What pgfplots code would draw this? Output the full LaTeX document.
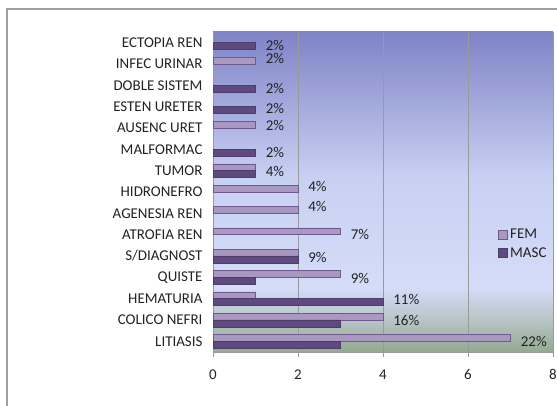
\documentclass[border=0pt]{standalone}
\usepackage{pgfplots}
\pgfplotsset{compat=1.18}
\usepackage{fontspec}
\setmainfont{Carlito}
\definecolor{femfill}{HTML}{A999C2}
\definecolor{femdraw}{HTML}{6E5A8E}
\definecolor{mascfill}{HTML}{5E4A7E}
\definecolor{mascdraw}{HTML}{4E3C6C}
\definecolor{gbot}{HTML}{93A98F}
\definecolor{gmid1}{HTML}{B8C4C6}
\definecolor{glight}{HTML}{D4DCF8}
\definecolor{glight2}{HTML}{C9D1F3}
\definecolor{gtop}{HTML}{7E84C6}
\definecolor{txt}{HTML}{222222}
\definecolor{gridc}{HTML}{9A9A9A}
\pgfdeclareverticalshading{plotbg}{100bp}{color(0bp)=(gbot); color(25bp)=(gbot); color(30bp)=(gmid1); color(35bp)=(glight); color(52bp)=(glight2); color(75bp)=(gtop); color(100bp)=(gtop)}
\begin{document}
\begin{tikzpicture}
\useasboundingbox (0,0) rectangle (557bp,406bp);
\draw[color=gray!75, line width=1.3bp] (7bp,0) -- (7bp,397bp) -- (557bp,397bp);
\begin{axis}[
  at={(213bp,54bp)}, anchor=south west,
  scale only axis, width=340bp, height=320bp,
  xbar, bar width=0.32,
  xmin=0, xmax=8, ymin=0.5, ymax=15.5,
  xtick={0,2,4,6,8},
  ytick={1,...,15},
  yticklabels={LITIASIS,COLICO NEFRI,HEMATURIA,QUISTE,S/DIAGNOST,ATROFIA REN,AGENESIA REN,HIDRONEFRO,TUMOR,MALFORMAC,AUSENC URET,ESTEN URETER,DOBLE SISTEM,INFEC URINAR,ECTOPIA REN},
  minor ytick={0.5,1.5,...,15.5},
  tick align=outside,
  major tick length=5bp,
  minor tick length=5bp,
  ytick style={draw=none},
  minor tick style={draw=gridc, line width=0.7bp},
  xtick style={draw=gridc, line width=0.7bp},
  xmajorgrids, grid style={draw=gridc, line width=0.7bp},
  axis x line*=bottom, axis y line*=left,
  axis line style={draw=gridc, line width=0.8bp, -},
  axis background/.style={shading=plotbg},
  tick label style={font=\fontsize{15}{17}\selectfont, text=txt},
  yticklabel style={xshift=-2bp},
  xticklabel style={yshift=-9bp},
  /pgf/number format/assume math mode=true,
  legend style={at={(rel axis cs:0.838,0.39)}, anchor=north west, draw=none, fill=none,
    font=\fontsize{15}{17}\selectfont, text=txt, row sep=3bp, inner sep=0pt,
    nodes={inner xsep=2.5bp}},
  legend cell align=left,
  legend image code/.code={\draw[#1, bar shift=0pt, xbar] (0bp,-4.5bp) rectangle (9bp,4.5bp);},
]
\addplot[fill=femfill, draw=femdraw, line width=0.6bp, bar shift=0.16] coordinates {
  (7,1) (4,2) (1,3) (3,4) (2,5) (3,6) (2,7) (2,8) (1,9) (1,11) (1,14)
};
\addlegendentry{FEM}
\addplot[fill=mascfill, draw=mascdraw, line width=0.6bp, bar shift=-0.16] coordinates {
  (3,1) (3,2) (4,3) (1,4) (2,5) (1,9) (1,10) (1,12) (1,13) (1,15)
};
\addlegendentry{MASC}
\begin{scope}[every node/.style={anchor=west, inner sep=0pt, font=\fontsize{15}{17}\selectfont, text=txt}]
\node at (axis cs:1.24,14.85) {2\%};
\node at (axis cs:1.24,14.27) {2\%};
\node at (axis cs:1.24,12.85) {2\%};
\node at (axis cs:1.24,11.90) {2\%};
\node at (axis cs:1.24,11.10) {2\%};
\node at (axis cs:1.24,9.85) {2\%};
\node at (axis cs:1.24,8.94) {4\%};
\node at (axis cs:2.24,8.28) {4\%};
\node at (axis cs:2.24,7.30) {4\%};
\node at (axis cs:3.24,6.03) {7\%};
\node at (axis cs:2.24,4.95) {9\%};
\node at (axis cs:3.24,3.97) {9\%};
\node at (axis cs:4.24,2.94) {11\%};
\node at (axis cs:4.24,2.00) {16\%};
\node at (axis cs:7.24,1.01) {22\%};
\end{scope}
\end{axis}
\end{tikzpicture}
\end{document}
